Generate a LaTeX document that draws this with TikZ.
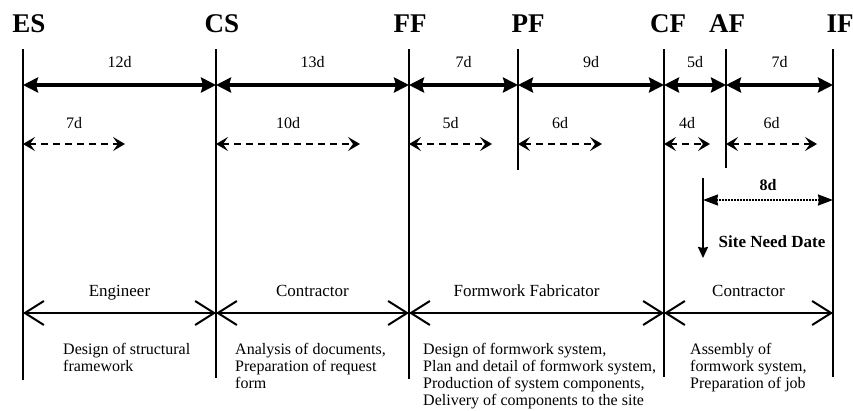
\documentclass[tikz,border=0pt]{standalone}
\usepackage{fontspec}
\setmainfont{Liberation Serif}
\usetikzlibrary{arrows.meta}

\tikzset{
  milestone/.style={line width=2.5pt},
  mlabel/.style={font=\fontsize{27}{27}\selectfont\bfseries, anchor=base},
  duration/.style={line width=4pt, {Stealth[length=15pt,width=15pt,inset=2pt]}-{Stealth[length=15pt,width=15pt,inset=2pt]}},
  float/.style={line width=2pt, dash pattern=on 7pt off 5pt, {Stealth[length=12pt,width=14pt,inset=5pt]}-{Stealth[length=12pt,width=14pt,inset=5pt]}},
  role/.style={line width=2pt, {Straight Barb[length=19pt,width=24pt]}-{Straight Barb[length=19pt,width=24pt]}},
  days/.style={font=\fontsize{16}{16}\selectfont, anchor=base},
  rolename/.style={font=\fontsize{17}{17}\selectfont, anchor=base},
  task/.style={font=\fontsize{16}{17}\selectfont, align=left, anchor=north west, inner sep=0pt},
}

\begin{document}
\begin{tikzpicture}[x=1pt, y=-1pt]
    \useasboundingbox (0,0) rectangle (853,410);

    % the milestone lines with their names on top
    \foreach \n/\x/\b/\l in {ES/23/380/29, CS/216/378/222, FF/409/379/410, PF/518/170/528,
                             CF/664/377/668, AF/726/168/727, IF/833/377/840}{
        \node[mlabel] (lab-\n) at (\l,32) {\n};
        \coordinate (\n) at (\x,85);
        \coordinate (\n-d) at (\x,144);
        \coordinate (\n-b) at (\x,313);
        \coordinate (\n-s) at (\x,200);
        \draw[milestone] (\x,49) -- (\x,\b);
    }

    % the durations (thick arrows)
    \foreach \a/\z/\t in {ES/CS/12d, CS/FF/13d, FF/PF/7d, PF/CF/9d, CF/AF/5d, AF/IF/7d}
    \draw[duration] (\a) -- (\z) node[days, midway, yshift=18pt] {\t};

    % the shorter ones (dashed arrows)
    \foreach \a/\e/\t in {ES/125/7d, CS/360/10d, FF/492/5d, PF/602/6d, CF/710/4d, AF/817/6d}{
        \coordinate (\a-e) at (\e,144);
        \draw[float] (\a-d) -- (\a-e) node[days, midway, yshift=16pt] {\t};
    }

    % Site Need Date
    \coordinate (snd) at (703,178);
    \coordinate (snd-e) at (703,258);
    \coordinate (snd-s) at (703,200);
    \draw[line width=2pt, -{Stealth[length=11pt,width=10pt,inset=1pt]}] (snd) -- (snd-e);
    \draw[line width=2pt, dash pattern=on 1.5pt off 1.5pt,
          {Stealth[length=15pt,width=11pt,inset=1pt]}-{Stealth[length=15pt,width=11pt,inset=1pt]}]
        (snd-s) -- (IF-s) node[days, midway, yshift=10pt, font=\fontsize{16}{16}\selectfont\bfseries] {8d};
    \node[anchor=base, font=\fontsize{17}{17}\selectfont\bfseries] (sndate) at (772,247) {Site Need Date};

    % who does what
    \draw[role] (ES-b) -- (CS-b) node[rolename, midway, yshift=17pt] {Engineer};
    \draw[role] (CS-b) -- (FF-b) node[rolename, midway, yshift=17pt] {Contractor};
    \draw[role] (FF-b) -- (CF-b) node[rolename, midway, yshift=17pt, xshift=-10pt] {Formwork Fabricator};
    \draw[role] (CF-b) -- (IF-b) node[rolename, midway, yshift=17pt] {Contractor};

    % the tasks below
    \node[task] (t1) at (63,343.5) {Design of structural\\framework};
    \node[task] (t2) at (235,343.5) {Analysis of documents,\\Preparation of request\\form};
    \node[task] (t3) at (423,343.5) {Design of formwork system,\\Plan and detail of formwork system,\\Production of system components,\\Delivery of components to the site};
    \node[task] (t4) at (690,343.5) {Assembly of\\formwork system,\\Preparation of job};
\end{tikzpicture}
\end{document}
